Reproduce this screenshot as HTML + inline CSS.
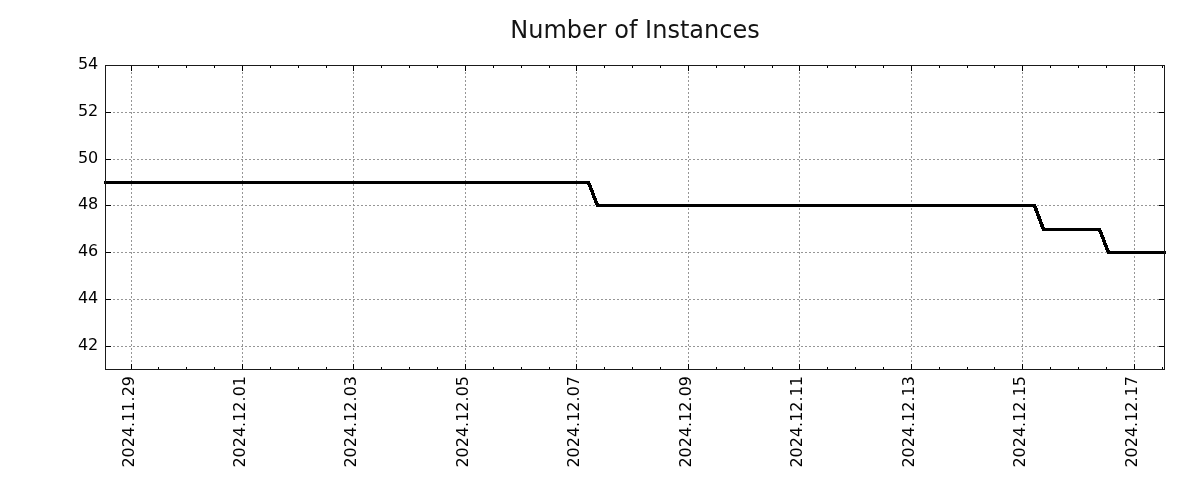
<!DOCTYPE html>
<html><head><meta charset="utf-8"><title>Number of Instances</title>
<style>html,body{margin:0;padding:0;background:#fff;overflow:hidden;}svg{display:block;}</style>
</head><body>
<svg width="1200" height="500" viewBox="0 0 1200 500">
<rect width="1200" height="500" fill="#fff"/>
<path d="M131 68h1v2h-1zM131 72h1v2h-1zM131 76h1v2h-1zM131 80h1v2h-1zM131 84h1v2h-1zM131 88h1v2h-1zM131 92h1v2h-1zM131 96h1v2h-1zM131 100h1v2h-1zM131 104h1v2h-1zM131 108h1v2h-1zM131 112h1v2h-1zM131 116h1v2h-1zM131 120h1v2h-1zM131 124h1v2h-1zM131 128h1v2h-1zM131 132h1v2h-1zM131 136h1v2h-1zM131 140h1v2h-1zM131 144h1v2h-1zM131 148h1v2h-1zM131 152h1v2h-1zM131 156h1v2h-1zM131 160h1v2h-1zM131 164h1v2h-1zM131 168h1v2h-1zM131 172h1v2h-1zM131 176h1v2h-1zM131 180h1v2h-1zM131 184h1v2h-1zM131 188h1v2h-1zM131 192h1v2h-1zM131 196h1v2h-1zM131 200h1v2h-1zM131 204h1v2h-1zM131 208h1v2h-1zM131 212h1v2h-1zM131 216h1v2h-1zM131 220h1v2h-1zM131 224h1v2h-1zM131 228h1v2h-1zM131 232h1v2h-1zM131 236h1v2h-1zM131 240h1v2h-1zM131 244h1v2h-1zM131 248h1v2h-1zM131 252h1v2h-1zM131 256h1v2h-1zM131 260h1v2h-1zM131 264h1v2h-1zM131 268h1v2h-1zM131 272h1v2h-1zM131 276h1v2h-1zM131 280h1v2h-1zM131 284h1v2h-1zM131 288h1v2h-1zM131 292h1v2h-1zM131 296h1v2h-1zM131 300h1v2h-1zM131 304h1v2h-1zM131 308h1v2h-1zM131 312h1v2h-1zM131 316h1v2h-1zM131 320h1v2h-1zM131 324h1v2h-1zM131 328h1v2h-1zM131 332h1v2h-1zM131 336h1v2h-1zM131 340h1v2h-1zM131 344h1v2h-1zM131 348h1v2h-1zM131 352h1v2h-1zM131 356h1v2h-1zM131 360h1v2h-1zM131 364h1v2h-1zM131 368h1v2h-1zM242 68h1v2h-1zM242 72h1v2h-1zM242 76h1v2h-1zM242 80h1v2h-1zM242 84h1v2h-1zM242 88h1v2h-1zM242 92h1v2h-1zM242 96h1v2h-1zM242 100h1v2h-1zM242 104h1v2h-1zM242 108h1v2h-1zM242 112h1v2h-1zM242 116h1v2h-1zM242 120h1v2h-1zM242 124h1v2h-1zM242 128h1v2h-1zM242 132h1v2h-1zM242 136h1v2h-1zM242 140h1v2h-1zM242 144h1v2h-1zM242 148h1v2h-1zM242 152h1v2h-1zM242 156h1v2h-1zM242 160h1v2h-1zM242 164h1v2h-1zM242 168h1v2h-1zM242 172h1v2h-1zM242 176h1v2h-1zM242 180h1v2h-1zM242 184h1v2h-1zM242 188h1v2h-1zM242 192h1v2h-1zM242 196h1v2h-1zM242 200h1v2h-1zM242 204h1v2h-1zM242 208h1v2h-1zM242 212h1v2h-1zM242 216h1v2h-1zM242 220h1v2h-1zM242 224h1v2h-1zM242 228h1v2h-1zM242 232h1v2h-1zM242 236h1v2h-1zM242 240h1v2h-1zM242 244h1v2h-1zM242 248h1v2h-1zM242 252h1v2h-1zM242 256h1v2h-1zM242 260h1v2h-1zM242 264h1v2h-1zM242 268h1v2h-1zM242 272h1v2h-1zM242 276h1v2h-1zM242 280h1v2h-1zM242 284h1v2h-1zM242 288h1v2h-1zM242 292h1v2h-1zM242 296h1v2h-1zM242 300h1v2h-1zM242 304h1v2h-1zM242 308h1v2h-1zM242 312h1v2h-1zM242 316h1v2h-1zM242 320h1v2h-1zM242 324h1v2h-1zM242 328h1v2h-1zM242 332h1v2h-1zM242 336h1v2h-1zM242 340h1v2h-1zM242 344h1v2h-1zM242 348h1v2h-1zM242 352h1v2h-1zM242 356h1v2h-1zM242 360h1v2h-1zM242 364h1v2h-1zM242 368h1v2h-1zM353 68h1v2h-1zM353 72h1v2h-1zM353 76h1v2h-1zM353 80h1v2h-1zM353 84h1v2h-1zM353 88h1v2h-1zM353 92h1v2h-1zM353 96h1v2h-1zM353 100h1v2h-1zM353 104h1v2h-1zM353 108h1v2h-1zM353 112h1v2h-1zM353 116h1v2h-1zM353 120h1v2h-1zM353 124h1v2h-1zM353 128h1v2h-1zM353 132h1v2h-1zM353 136h1v2h-1zM353 140h1v2h-1zM353 144h1v2h-1zM353 148h1v2h-1zM353 152h1v2h-1zM353 156h1v2h-1zM353 160h1v2h-1zM353 164h1v2h-1zM353 168h1v2h-1zM353 172h1v2h-1zM353 176h1v2h-1zM353 180h1v2h-1zM353 184h1v2h-1zM353 188h1v2h-1zM353 192h1v2h-1zM353 196h1v2h-1zM353 200h1v2h-1zM353 204h1v2h-1zM353 208h1v2h-1zM353 212h1v2h-1zM353 216h1v2h-1zM353 220h1v2h-1zM353 224h1v2h-1zM353 228h1v2h-1zM353 232h1v2h-1zM353 236h1v2h-1zM353 240h1v2h-1zM353 244h1v2h-1zM353 248h1v2h-1zM353 252h1v2h-1zM353 256h1v2h-1zM353 260h1v2h-1zM353 264h1v2h-1zM353 268h1v2h-1zM353 272h1v2h-1zM353 276h1v2h-1zM353 280h1v2h-1zM353 284h1v2h-1zM353 288h1v2h-1zM353 292h1v2h-1zM353 296h1v2h-1zM353 300h1v2h-1zM353 304h1v2h-1zM353 308h1v2h-1zM353 312h1v2h-1zM353 316h1v2h-1zM353 320h1v2h-1zM353 324h1v2h-1zM353 328h1v2h-1zM353 332h1v2h-1zM353 336h1v2h-1zM353 340h1v2h-1zM353 344h1v2h-1zM353 348h1v2h-1zM353 352h1v2h-1zM353 356h1v2h-1zM353 360h1v2h-1zM353 364h1v2h-1zM353 368h1v2h-1zM465 68h1v2h-1zM465 72h1v2h-1zM465 76h1v2h-1zM465 80h1v2h-1zM465 84h1v2h-1zM465 88h1v2h-1zM465 92h1v2h-1zM465 96h1v2h-1zM465 100h1v2h-1zM465 104h1v2h-1zM465 108h1v2h-1zM465 112h1v2h-1zM465 116h1v2h-1zM465 120h1v2h-1zM465 124h1v2h-1zM465 128h1v2h-1zM465 132h1v2h-1zM465 136h1v2h-1zM465 140h1v2h-1zM465 144h1v2h-1zM465 148h1v2h-1zM465 152h1v2h-1zM465 156h1v2h-1zM465 160h1v2h-1zM465 164h1v2h-1zM465 168h1v2h-1zM465 172h1v2h-1zM465 176h1v2h-1zM465 180h1v2h-1zM465 184h1v2h-1zM465 188h1v2h-1zM465 192h1v2h-1zM465 196h1v2h-1zM465 200h1v2h-1zM465 204h1v2h-1zM465 208h1v2h-1zM465 212h1v2h-1zM465 216h1v2h-1zM465 220h1v2h-1zM465 224h1v2h-1zM465 228h1v2h-1zM465 232h1v2h-1zM465 236h1v2h-1zM465 240h1v2h-1zM465 244h1v2h-1zM465 248h1v2h-1zM465 252h1v2h-1zM465 256h1v2h-1zM465 260h1v2h-1zM465 264h1v2h-1zM465 268h1v2h-1zM465 272h1v2h-1zM465 276h1v2h-1zM465 280h1v2h-1zM465 284h1v2h-1zM465 288h1v2h-1zM465 292h1v2h-1zM465 296h1v2h-1zM465 300h1v2h-1zM465 304h1v2h-1zM465 308h1v2h-1zM465 312h1v2h-1zM465 316h1v2h-1zM465 320h1v2h-1zM465 324h1v2h-1zM465 328h1v2h-1zM465 332h1v2h-1zM465 336h1v2h-1zM465 340h1v2h-1zM465 344h1v2h-1zM465 348h1v2h-1zM465 352h1v2h-1zM465 356h1v2h-1zM465 360h1v2h-1zM465 364h1v2h-1zM465 368h1v2h-1zM576 68h1v2h-1zM576 72h1v2h-1zM576 76h1v2h-1zM576 80h1v2h-1zM576 84h1v2h-1zM576 88h1v2h-1zM576 92h1v2h-1zM576 96h1v2h-1zM576 100h1v2h-1zM576 104h1v2h-1zM576 108h1v2h-1zM576 112h1v2h-1zM576 116h1v2h-1zM576 120h1v2h-1zM576 124h1v2h-1zM576 128h1v2h-1zM576 132h1v2h-1zM576 136h1v2h-1zM576 140h1v2h-1zM576 144h1v2h-1zM576 148h1v2h-1zM576 152h1v2h-1zM576 156h1v2h-1zM576 160h1v2h-1zM576 164h1v2h-1zM576 168h1v2h-1zM576 172h1v2h-1zM576 176h1v2h-1zM576 180h1v2h-1zM576 184h1v2h-1zM576 188h1v2h-1zM576 192h1v2h-1zM576 196h1v2h-1zM576 200h1v2h-1zM576 204h1v2h-1zM576 208h1v2h-1zM576 212h1v2h-1zM576 216h1v2h-1zM576 220h1v2h-1zM576 224h1v2h-1zM576 228h1v2h-1zM576 232h1v2h-1zM576 236h1v2h-1zM576 240h1v2h-1zM576 244h1v2h-1zM576 248h1v2h-1zM576 252h1v2h-1zM576 256h1v2h-1zM576 260h1v2h-1zM576 264h1v2h-1zM576 268h1v2h-1zM576 272h1v2h-1zM576 276h1v2h-1zM576 280h1v2h-1zM576 284h1v2h-1zM576 288h1v2h-1zM576 292h1v2h-1zM576 296h1v2h-1zM576 300h1v2h-1zM576 304h1v2h-1zM576 308h1v2h-1zM576 312h1v2h-1zM576 316h1v2h-1zM576 320h1v2h-1zM576 324h1v2h-1zM576 328h1v2h-1zM576 332h1v2h-1zM576 336h1v2h-1zM576 340h1v2h-1zM576 344h1v2h-1zM576 348h1v2h-1zM576 352h1v2h-1zM576 356h1v2h-1zM576 360h1v2h-1zM576 364h1v2h-1zM576 368h1v2h-1zM688 68h1v2h-1zM688 72h1v2h-1zM688 76h1v2h-1zM688 80h1v2h-1zM688 84h1v2h-1zM688 88h1v2h-1zM688 92h1v2h-1zM688 96h1v2h-1zM688 100h1v2h-1zM688 104h1v2h-1zM688 108h1v2h-1zM688 112h1v2h-1zM688 116h1v2h-1zM688 120h1v2h-1zM688 124h1v2h-1zM688 128h1v2h-1zM688 132h1v2h-1zM688 136h1v2h-1zM688 140h1v2h-1zM688 144h1v2h-1zM688 148h1v2h-1zM688 152h1v2h-1zM688 156h1v2h-1zM688 160h1v2h-1zM688 164h1v2h-1zM688 168h1v2h-1zM688 172h1v2h-1zM688 176h1v2h-1zM688 180h1v2h-1zM688 184h1v2h-1zM688 188h1v2h-1zM688 192h1v2h-1zM688 196h1v2h-1zM688 200h1v2h-1zM688 204h1v2h-1zM688 208h1v2h-1zM688 212h1v2h-1zM688 216h1v2h-1zM688 220h1v2h-1zM688 224h1v2h-1zM688 228h1v2h-1zM688 232h1v2h-1zM688 236h1v2h-1zM688 240h1v2h-1zM688 244h1v2h-1zM688 248h1v2h-1zM688 252h1v2h-1zM688 256h1v2h-1zM688 260h1v2h-1zM688 264h1v2h-1zM688 268h1v2h-1zM688 272h1v2h-1zM688 276h1v2h-1zM688 280h1v2h-1zM688 284h1v2h-1zM688 288h1v2h-1zM688 292h1v2h-1zM688 296h1v2h-1zM688 300h1v2h-1zM688 304h1v2h-1zM688 308h1v2h-1zM688 312h1v2h-1zM688 316h1v2h-1zM688 320h1v2h-1zM688 324h1v2h-1zM688 328h1v2h-1zM688 332h1v2h-1zM688 336h1v2h-1zM688 340h1v2h-1zM688 344h1v2h-1zM688 348h1v2h-1zM688 352h1v2h-1zM688 356h1v2h-1zM688 360h1v2h-1zM688 364h1v2h-1zM688 368h1v2h-1zM799 68h1v2h-1zM799 72h1v2h-1zM799 76h1v2h-1zM799 80h1v2h-1zM799 84h1v2h-1zM799 88h1v2h-1zM799 92h1v2h-1zM799 96h1v2h-1zM799 100h1v2h-1zM799 104h1v2h-1zM799 108h1v2h-1zM799 112h1v2h-1zM799 116h1v2h-1zM799 120h1v2h-1zM799 124h1v2h-1zM799 128h1v2h-1zM799 132h1v2h-1zM799 136h1v2h-1zM799 140h1v2h-1zM799 144h1v2h-1zM799 148h1v2h-1zM799 152h1v2h-1zM799 156h1v2h-1zM799 160h1v2h-1zM799 164h1v2h-1zM799 168h1v2h-1zM799 172h1v2h-1zM799 176h1v2h-1zM799 180h1v2h-1zM799 184h1v2h-1zM799 188h1v2h-1zM799 192h1v2h-1zM799 196h1v2h-1zM799 200h1v2h-1zM799 204h1v2h-1zM799 208h1v2h-1zM799 212h1v2h-1zM799 216h1v2h-1zM799 220h1v2h-1zM799 224h1v2h-1zM799 228h1v2h-1zM799 232h1v2h-1zM799 236h1v2h-1zM799 240h1v2h-1zM799 244h1v2h-1zM799 248h1v2h-1zM799 252h1v2h-1zM799 256h1v2h-1zM799 260h1v2h-1zM799 264h1v2h-1zM799 268h1v2h-1zM799 272h1v2h-1zM799 276h1v2h-1zM799 280h1v2h-1zM799 284h1v2h-1zM799 288h1v2h-1zM799 292h1v2h-1zM799 296h1v2h-1zM799 300h1v2h-1zM799 304h1v2h-1zM799 308h1v2h-1zM799 312h1v2h-1zM799 316h1v2h-1zM799 320h1v2h-1zM799 324h1v2h-1zM799 328h1v2h-1zM799 332h1v2h-1zM799 336h1v2h-1zM799 340h1v2h-1zM799 344h1v2h-1zM799 348h1v2h-1zM799 352h1v2h-1zM799 356h1v2h-1zM799 360h1v2h-1zM799 364h1v2h-1zM799 368h1v2h-1zM911 68h1v2h-1zM911 72h1v2h-1zM911 76h1v2h-1zM911 80h1v2h-1zM911 84h1v2h-1zM911 88h1v2h-1zM911 92h1v2h-1zM911 96h1v2h-1zM911 100h1v2h-1zM911 104h1v2h-1zM911 108h1v2h-1zM911 112h1v2h-1zM911 116h1v2h-1zM911 120h1v2h-1zM911 124h1v2h-1zM911 128h1v2h-1zM911 132h1v2h-1zM911 136h1v2h-1zM911 140h1v2h-1zM911 144h1v2h-1zM911 148h1v2h-1zM911 152h1v2h-1zM911 156h1v2h-1zM911 160h1v2h-1zM911 164h1v2h-1zM911 168h1v2h-1zM911 172h1v2h-1zM911 176h1v2h-1zM911 180h1v2h-1zM911 184h1v2h-1zM911 188h1v2h-1zM911 192h1v2h-1zM911 196h1v2h-1zM911 200h1v2h-1zM911 204h1v2h-1zM911 208h1v2h-1zM911 212h1v2h-1zM911 216h1v2h-1zM911 220h1v2h-1zM911 224h1v2h-1zM911 228h1v2h-1zM911 232h1v2h-1zM911 236h1v2h-1zM911 240h1v2h-1zM911 244h1v2h-1zM911 248h1v2h-1zM911 252h1v2h-1zM911 256h1v2h-1zM911 260h1v2h-1zM911 264h1v2h-1zM911 268h1v2h-1zM911 272h1v2h-1zM911 276h1v2h-1zM911 280h1v2h-1zM911 284h1v2h-1zM911 288h1v2h-1zM911 292h1v2h-1zM911 296h1v2h-1zM911 300h1v2h-1zM911 304h1v2h-1zM911 308h1v2h-1zM911 312h1v2h-1zM911 316h1v2h-1zM911 320h1v2h-1zM911 324h1v2h-1zM911 328h1v2h-1zM911 332h1v2h-1zM911 336h1v2h-1zM911 340h1v2h-1zM911 344h1v2h-1zM911 348h1v2h-1zM911 352h1v2h-1zM911 356h1v2h-1zM911 360h1v2h-1zM911 364h1v2h-1zM911 368h1v2h-1zM1022 68h1v2h-1zM1022 72h1v2h-1zM1022 76h1v2h-1zM1022 80h1v2h-1zM1022 84h1v2h-1zM1022 88h1v2h-1zM1022 92h1v2h-1zM1022 96h1v2h-1zM1022 100h1v2h-1zM1022 104h1v2h-1zM1022 108h1v2h-1zM1022 112h1v2h-1zM1022 116h1v2h-1zM1022 120h1v2h-1zM1022 124h1v2h-1zM1022 128h1v2h-1zM1022 132h1v2h-1zM1022 136h1v2h-1zM1022 140h1v2h-1zM1022 144h1v2h-1zM1022 148h1v2h-1zM1022 152h1v2h-1zM1022 156h1v2h-1zM1022 160h1v2h-1zM1022 164h1v2h-1zM1022 168h1v2h-1zM1022 172h1v2h-1zM1022 176h1v2h-1zM1022 180h1v2h-1zM1022 184h1v2h-1zM1022 188h1v2h-1zM1022 192h1v2h-1zM1022 196h1v2h-1zM1022 200h1v2h-1zM1022 204h1v2h-1zM1022 208h1v2h-1zM1022 212h1v2h-1zM1022 216h1v2h-1zM1022 220h1v2h-1zM1022 224h1v2h-1zM1022 228h1v2h-1zM1022 232h1v2h-1zM1022 236h1v2h-1zM1022 240h1v2h-1zM1022 244h1v2h-1zM1022 248h1v2h-1zM1022 252h1v2h-1zM1022 256h1v2h-1zM1022 260h1v2h-1zM1022 264h1v2h-1zM1022 268h1v2h-1zM1022 272h1v2h-1zM1022 276h1v2h-1zM1022 280h1v2h-1zM1022 284h1v2h-1zM1022 288h1v2h-1zM1022 292h1v2h-1zM1022 296h1v2h-1zM1022 300h1v2h-1zM1022 304h1v2h-1zM1022 308h1v2h-1zM1022 312h1v2h-1zM1022 316h1v2h-1zM1022 320h1v2h-1zM1022 324h1v2h-1zM1022 328h1v2h-1zM1022 332h1v2h-1zM1022 336h1v2h-1zM1022 340h1v2h-1zM1022 344h1v2h-1zM1022 348h1v2h-1zM1022 352h1v2h-1zM1022 356h1v2h-1zM1022 360h1v2h-1zM1022 364h1v2h-1zM1022 368h1v2h-1zM1134 68h1v2h-1zM1134 72h1v2h-1zM1134 76h1v2h-1zM1134 80h1v2h-1zM1134 84h1v2h-1zM1134 88h1v2h-1zM1134 92h1v2h-1zM1134 96h1v2h-1zM1134 100h1v2h-1zM1134 104h1v2h-1zM1134 108h1v2h-1zM1134 112h1v2h-1zM1134 116h1v2h-1zM1134 120h1v2h-1zM1134 124h1v2h-1zM1134 128h1v2h-1zM1134 132h1v2h-1zM1134 136h1v2h-1zM1134 140h1v2h-1zM1134 144h1v2h-1zM1134 148h1v2h-1zM1134 152h1v2h-1zM1134 156h1v2h-1zM1134 160h1v2h-1zM1134 164h1v2h-1zM1134 168h1v2h-1zM1134 172h1v2h-1zM1134 176h1v2h-1zM1134 180h1v2h-1zM1134 184h1v2h-1zM1134 188h1v2h-1zM1134 192h1v2h-1zM1134 196h1v2h-1zM1134 200h1v2h-1zM1134 204h1v2h-1zM1134 208h1v2h-1zM1134 212h1v2h-1zM1134 216h1v2h-1zM1134 220h1v2h-1zM1134 224h1v2h-1zM1134 228h1v2h-1zM1134 232h1v2h-1zM1134 236h1v2h-1zM1134 240h1v2h-1zM1134 244h1v2h-1zM1134 248h1v2h-1zM1134 252h1v2h-1zM1134 256h1v2h-1zM1134 260h1v2h-1zM1134 264h1v2h-1zM1134 268h1v2h-1zM1134 272h1v2h-1zM1134 276h1v2h-1zM1134 280h1v2h-1zM1134 284h1v2h-1zM1134 288h1v2h-1zM1134 292h1v2h-1zM1134 296h1v2h-1zM1134 300h1v2h-1zM1134 304h1v2h-1zM1134 308h1v2h-1zM1134 312h1v2h-1zM1134 316h1v2h-1zM1134 320h1v2h-1zM1134 324h1v2h-1zM1134 328h1v2h-1zM1134 332h1v2h-1zM1134 336h1v2h-1zM1134 340h1v2h-1zM1134 344h1v2h-1zM1134 348h1v2h-1zM1134 352h1v2h-1zM1134 356h1v2h-1zM1134 360h1v2h-1zM1134 364h1v2h-1zM1134 368h1v2h-1zM109 112h2v1h-2zM113 112h2v1h-2zM117 112h2v1h-2zM121 112h2v1h-2zM125 112h2v1h-2zM129 112h2v1h-2zM133 112h2v1h-2zM137 112h2v1h-2zM141 112h2v1h-2zM145 112h2v1h-2zM149 112h2v1h-2zM153 112h2v1h-2zM157 112h2v1h-2zM161 112h2v1h-2zM165 112h2v1h-2zM169 112h2v1h-2zM173 112h2v1h-2zM177 112h2v1h-2zM181 112h2v1h-2zM185 112h2v1h-2zM189 112h2v1h-2zM193 112h2v1h-2zM197 112h2v1h-2zM201 112h2v1h-2zM205 112h2v1h-2zM209 112h2v1h-2zM213 112h2v1h-2zM217 112h2v1h-2zM221 112h2v1h-2zM225 112h2v1h-2zM229 112h2v1h-2zM233 112h2v1h-2zM237 112h2v1h-2zM241 112h2v1h-2zM245 112h2v1h-2zM249 112h2v1h-2zM253 112h2v1h-2zM257 112h2v1h-2zM261 112h2v1h-2zM265 112h2v1h-2zM269 112h2v1h-2zM273 112h2v1h-2zM277 112h2v1h-2zM281 112h2v1h-2zM285 112h2v1h-2zM289 112h2v1h-2zM293 112h2v1h-2zM297 112h2v1h-2zM301 112h2v1h-2zM305 112h2v1h-2zM309 112h2v1h-2zM313 112h2v1h-2zM317 112h2v1h-2zM321 112h2v1h-2zM325 112h2v1h-2zM329 112h2v1h-2zM333 112h2v1h-2zM337 112h2v1h-2zM341 112h2v1h-2zM345 112h2v1h-2zM349 112h2v1h-2zM353 112h2v1h-2zM357 112h2v1h-2zM361 112h2v1h-2zM365 112h2v1h-2zM369 112h2v1h-2zM373 112h2v1h-2zM377 112h2v1h-2zM381 112h2v1h-2zM385 112h2v1h-2zM389 112h2v1h-2zM393 112h2v1h-2zM397 112h2v1h-2zM401 112h2v1h-2zM405 112h2v1h-2zM409 112h2v1h-2zM413 112h2v1h-2zM417 112h2v1h-2zM421 112h2v1h-2zM425 112h2v1h-2zM429 112h2v1h-2zM433 112h2v1h-2zM437 112h2v1h-2zM441 112h2v1h-2zM445 112h2v1h-2zM449 112h2v1h-2zM453 112h2v1h-2zM457 112h2v1h-2zM461 112h2v1h-2zM465 112h2v1h-2zM469 112h2v1h-2zM473 112h2v1h-2zM477 112h2v1h-2zM481 112h2v1h-2zM485 112h2v1h-2zM489 112h2v1h-2zM493 112h2v1h-2zM497 112h2v1h-2zM501 112h2v1h-2zM505 112h2v1h-2zM509 112h2v1h-2zM513 112h2v1h-2zM517 112h2v1h-2zM521 112h2v1h-2zM525 112h2v1h-2zM529 112h2v1h-2zM533 112h2v1h-2zM537 112h2v1h-2zM541 112h2v1h-2zM545 112h2v1h-2zM549 112h2v1h-2zM553 112h2v1h-2zM557 112h2v1h-2zM561 112h2v1h-2zM565 112h2v1h-2zM569 112h2v1h-2zM573 112h2v1h-2zM577 112h2v1h-2zM581 112h2v1h-2zM585 112h2v1h-2zM589 112h2v1h-2zM593 112h2v1h-2zM597 112h2v1h-2zM601 112h2v1h-2zM605 112h2v1h-2zM609 112h2v1h-2zM613 112h2v1h-2zM617 112h2v1h-2zM621 112h2v1h-2zM625 112h2v1h-2zM629 112h2v1h-2zM633 112h2v1h-2zM637 112h2v1h-2zM641 112h2v1h-2zM645 112h2v1h-2zM649 112h2v1h-2zM653 112h2v1h-2zM657 112h2v1h-2zM661 112h2v1h-2zM665 112h2v1h-2zM669 112h2v1h-2zM673 112h2v1h-2zM677 112h2v1h-2zM681 112h2v1h-2zM685 112h2v1h-2zM689 112h2v1h-2zM693 112h2v1h-2zM697 112h2v1h-2zM701 112h2v1h-2zM705 112h2v1h-2zM709 112h2v1h-2zM713 112h2v1h-2zM717 112h2v1h-2zM721 112h2v1h-2zM725 112h2v1h-2zM729 112h2v1h-2zM733 112h2v1h-2zM737 112h2v1h-2zM741 112h2v1h-2zM745 112h2v1h-2zM749 112h2v1h-2zM753 112h2v1h-2zM757 112h2v1h-2zM761 112h2v1h-2zM765 112h2v1h-2zM769 112h2v1h-2zM773 112h2v1h-2zM777 112h2v1h-2zM781 112h2v1h-2zM785 112h2v1h-2zM789 112h2v1h-2zM793 112h2v1h-2zM797 112h2v1h-2zM801 112h2v1h-2zM805 112h2v1h-2zM809 112h2v1h-2zM813 112h2v1h-2zM817 112h2v1h-2zM821 112h2v1h-2zM825 112h2v1h-2zM829 112h2v1h-2zM833 112h2v1h-2zM837 112h2v1h-2zM841 112h2v1h-2zM845 112h2v1h-2zM849 112h2v1h-2zM853 112h2v1h-2zM857 112h2v1h-2zM861 112h2v1h-2zM865 112h2v1h-2zM869 112h2v1h-2zM873 112h2v1h-2zM877 112h2v1h-2zM881 112h2v1h-2zM885 112h2v1h-2zM889 112h2v1h-2zM893 112h2v1h-2zM897 112h2v1h-2zM901 112h2v1h-2zM905 112h2v1h-2zM909 112h2v1h-2zM913 112h2v1h-2zM917 112h2v1h-2zM921 112h2v1h-2zM925 112h2v1h-2zM929 112h2v1h-2zM933 112h2v1h-2zM937 112h2v1h-2zM941 112h2v1h-2zM945 112h2v1h-2zM949 112h2v1h-2zM953 112h2v1h-2zM957 112h2v1h-2zM961 112h2v1h-2zM965 112h2v1h-2zM969 112h2v1h-2zM973 112h2v1h-2zM977 112h2v1h-2zM981 112h2v1h-2zM985 112h2v1h-2zM989 112h2v1h-2zM993 112h2v1h-2zM997 112h2v1h-2zM1001 112h2v1h-2zM1005 112h2v1h-2zM1009 112h2v1h-2zM1013 112h2v1h-2zM1017 112h2v1h-2zM1021 112h2v1h-2zM1025 112h2v1h-2zM1029 112h2v1h-2zM1033 112h2v1h-2zM1037 112h2v1h-2zM1041 112h2v1h-2zM1045 112h2v1h-2zM1049 112h2v1h-2zM1053 112h2v1h-2zM1057 112h2v1h-2zM1061 112h2v1h-2zM1065 112h2v1h-2zM1069 112h2v1h-2zM1073 112h2v1h-2zM1077 112h2v1h-2zM1081 112h2v1h-2zM1085 112h2v1h-2zM1089 112h2v1h-2zM1093 112h2v1h-2zM1097 112h2v1h-2zM1101 112h2v1h-2zM1105 112h2v1h-2zM1109 112h2v1h-2zM1113 112h2v1h-2zM1117 112h2v1h-2zM1121 112h2v1h-2zM1125 112h2v1h-2zM1129 112h2v1h-2zM1133 112h2v1h-2zM1137 112h2v1h-2zM1141 112h2v1h-2zM1145 112h2v1h-2zM1149 112h2v1h-2zM1153 112h2v1h-2zM1157 112h2v1h-2zM1161 112h2v1h-2zM109 159h2v1h-2zM113 159h2v1h-2zM117 159h2v1h-2zM121 159h2v1h-2zM125 159h2v1h-2zM129 159h2v1h-2zM133 159h2v1h-2zM137 159h2v1h-2zM141 159h2v1h-2zM145 159h2v1h-2zM149 159h2v1h-2zM153 159h2v1h-2zM157 159h2v1h-2zM161 159h2v1h-2zM165 159h2v1h-2zM169 159h2v1h-2zM173 159h2v1h-2zM177 159h2v1h-2zM181 159h2v1h-2zM185 159h2v1h-2zM189 159h2v1h-2zM193 159h2v1h-2zM197 159h2v1h-2zM201 159h2v1h-2zM205 159h2v1h-2zM209 159h2v1h-2zM213 159h2v1h-2zM217 159h2v1h-2zM221 159h2v1h-2zM225 159h2v1h-2zM229 159h2v1h-2zM233 159h2v1h-2zM237 159h2v1h-2zM241 159h2v1h-2zM245 159h2v1h-2zM249 159h2v1h-2zM253 159h2v1h-2zM257 159h2v1h-2zM261 159h2v1h-2zM265 159h2v1h-2zM269 159h2v1h-2zM273 159h2v1h-2zM277 159h2v1h-2zM281 159h2v1h-2zM285 159h2v1h-2zM289 159h2v1h-2zM293 159h2v1h-2zM297 159h2v1h-2zM301 159h2v1h-2zM305 159h2v1h-2zM309 159h2v1h-2zM313 159h2v1h-2zM317 159h2v1h-2zM321 159h2v1h-2zM325 159h2v1h-2zM329 159h2v1h-2zM333 159h2v1h-2zM337 159h2v1h-2zM341 159h2v1h-2zM345 159h2v1h-2zM349 159h2v1h-2zM353 159h2v1h-2zM357 159h2v1h-2zM361 159h2v1h-2zM365 159h2v1h-2zM369 159h2v1h-2zM373 159h2v1h-2zM377 159h2v1h-2zM381 159h2v1h-2zM385 159h2v1h-2zM389 159h2v1h-2zM393 159h2v1h-2zM397 159h2v1h-2zM401 159h2v1h-2zM405 159h2v1h-2zM409 159h2v1h-2zM413 159h2v1h-2zM417 159h2v1h-2zM421 159h2v1h-2zM425 159h2v1h-2zM429 159h2v1h-2zM433 159h2v1h-2zM437 159h2v1h-2zM441 159h2v1h-2zM445 159h2v1h-2zM449 159h2v1h-2zM453 159h2v1h-2zM457 159h2v1h-2zM461 159h2v1h-2zM465 159h2v1h-2zM469 159h2v1h-2zM473 159h2v1h-2zM477 159h2v1h-2zM481 159h2v1h-2zM485 159h2v1h-2zM489 159h2v1h-2zM493 159h2v1h-2zM497 159h2v1h-2zM501 159h2v1h-2zM505 159h2v1h-2zM509 159h2v1h-2zM513 159h2v1h-2zM517 159h2v1h-2zM521 159h2v1h-2zM525 159h2v1h-2zM529 159h2v1h-2zM533 159h2v1h-2zM537 159h2v1h-2zM541 159h2v1h-2zM545 159h2v1h-2zM549 159h2v1h-2zM553 159h2v1h-2zM557 159h2v1h-2zM561 159h2v1h-2zM565 159h2v1h-2zM569 159h2v1h-2zM573 159h2v1h-2zM577 159h2v1h-2zM581 159h2v1h-2zM585 159h2v1h-2zM589 159h2v1h-2zM593 159h2v1h-2zM597 159h2v1h-2zM601 159h2v1h-2zM605 159h2v1h-2zM609 159h2v1h-2zM613 159h2v1h-2zM617 159h2v1h-2zM621 159h2v1h-2zM625 159h2v1h-2zM629 159h2v1h-2zM633 159h2v1h-2zM637 159h2v1h-2zM641 159h2v1h-2zM645 159h2v1h-2zM649 159h2v1h-2zM653 159h2v1h-2zM657 159h2v1h-2zM661 159h2v1h-2zM665 159h2v1h-2zM669 159h2v1h-2zM673 159h2v1h-2zM677 159h2v1h-2zM681 159h2v1h-2zM685 159h2v1h-2zM689 159h2v1h-2zM693 159h2v1h-2zM697 159h2v1h-2zM701 159h2v1h-2zM705 159h2v1h-2zM709 159h2v1h-2zM713 159h2v1h-2zM717 159h2v1h-2zM721 159h2v1h-2zM725 159h2v1h-2zM729 159h2v1h-2zM733 159h2v1h-2zM737 159h2v1h-2zM741 159h2v1h-2zM745 159h2v1h-2zM749 159h2v1h-2zM753 159h2v1h-2zM757 159h2v1h-2zM761 159h2v1h-2zM765 159h2v1h-2zM769 159h2v1h-2zM773 159h2v1h-2zM777 159h2v1h-2zM781 159h2v1h-2zM785 159h2v1h-2zM789 159h2v1h-2zM793 159h2v1h-2zM797 159h2v1h-2zM801 159h2v1h-2zM805 159h2v1h-2zM809 159h2v1h-2zM813 159h2v1h-2zM817 159h2v1h-2zM821 159h2v1h-2zM825 159h2v1h-2zM829 159h2v1h-2zM833 159h2v1h-2zM837 159h2v1h-2zM841 159h2v1h-2zM845 159h2v1h-2zM849 159h2v1h-2zM853 159h2v1h-2zM857 159h2v1h-2zM861 159h2v1h-2zM865 159h2v1h-2zM869 159h2v1h-2zM873 159h2v1h-2zM877 159h2v1h-2zM881 159h2v1h-2zM885 159h2v1h-2zM889 159h2v1h-2zM893 159h2v1h-2zM897 159h2v1h-2zM901 159h2v1h-2zM905 159h2v1h-2zM909 159h2v1h-2zM913 159h2v1h-2zM917 159h2v1h-2zM921 159h2v1h-2zM925 159h2v1h-2zM929 159h2v1h-2zM933 159h2v1h-2zM937 159h2v1h-2zM941 159h2v1h-2zM945 159h2v1h-2zM949 159h2v1h-2zM953 159h2v1h-2zM957 159h2v1h-2zM961 159h2v1h-2zM965 159h2v1h-2zM969 159h2v1h-2zM973 159h2v1h-2zM977 159h2v1h-2zM981 159h2v1h-2zM985 159h2v1h-2zM989 159h2v1h-2zM993 159h2v1h-2zM997 159h2v1h-2zM1001 159h2v1h-2zM1005 159h2v1h-2zM1009 159h2v1h-2zM1013 159h2v1h-2zM1017 159h2v1h-2zM1021 159h2v1h-2zM1025 159h2v1h-2zM1029 159h2v1h-2zM1033 159h2v1h-2zM1037 159h2v1h-2zM1041 159h2v1h-2zM1045 159h2v1h-2zM1049 159h2v1h-2zM1053 159h2v1h-2zM1057 159h2v1h-2zM1061 159h2v1h-2zM1065 159h2v1h-2zM1069 159h2v1h-2zM1073 159h2v1h-2zM1077 159h2v1h-2zM1081 159h2v1h-2zM1085 159h2v1h-2zM1089 159h2v1h-2zM1093 159h2v1h-2zM1097 159h2v1h-2zM1101 159h2v1h-2zM1105 159h2v1h-2zM1109 159h2v1h-2zM1113 159h2v1h-2zM1117 159h2v1h-2zM1121 159h2v1h-2zM1125 159h2v1h-2zM1129 159h2v1h-2zM1133 159h2v1h-2zM1137 159h2v1h-2zM1141 159h2v1h-2zM1145 159h2v1h-2zM1149 159h2v1h-2zM1153 159h2v1h-2zM1157 159h2v1h-2zM1161 159h2v1h-2zM109 205h2v1h-2zM113 205h2v1h-2zM117 205h2v1h-2zM121 205h2v1h-2zM125 205h2v1h-2zM129 205h2v1h-2zM133 205h2v1h-2zM137 205h2v1h-2zM141 205h2v1h-2zM145 205h2v1h-2zM149 205h2v1h-2zM153 205h2v1h-2zM157 205h2v1h-2zM161 205h2v1h-2zM165 205h2v1h-2zM169 205h2v1h-2zM173 205h2v1h-2zM177 205h2v1h-2zM181 205h2v1h-2zM185 205h2v1h-2zM189 205h2v1h-2zM193 205h2v1h-2zM197 205h2v1h-2zM201 205h2v1h-2zM205 205h2v1h-2zM209 205h2v1h-2zM213 205h2v1h-2zM217 205h2v1h-2zM221 205h2v1h-2zM225 205h2v1h-2zM229 205h2v1h-2zM233 205h2v1h-2zM237 205h2v1h-2zM241 205h2v1h-2zM245 205h2v1h-2zM249 205h2v1h-2zM253 205h2v1h-2zM257 205h2v1h-2zM261 205h2v1h-2zM265 205h2v1h-2zM269 205h2v1h-2zM273 205h2v1h-2zM277 205h2v1h-2zM281 205h2v1h-2zM285 205h2v1h-2zM289 205h2v1h-2zM293 205h2v1h-2zM297 205h2v1h-2zM301 205h2v1h-2zM305 205h2v1h-2zM309 205h2v1h-2zM313 205h2v1h-2zM317 205h2v1h-2zM321 205h2v1h-2zM325 205h2v1h-2zM329 205h2v1h-2zM333 205h2v1h-2zM337 205h2v1h-2zM341 205h2v1h-2zM345 205h2v1h-2zM349 205h2v1h-2zM353 205h2v1h-2zM357 205h2v1h-2zM361 205h2v1h-2zM365 205h2v1h-2zM369 205h2v1h-2zM373 205h2v1h-2zM377 205h2v1h-2zM381 205h2v1h-2zM385 205h2v1h-2zM389 205h2v1h-2zM393 205h2v1h-2zM397 205h2v1h-2zM401 205h2v1h-2zM405 205h2v1h-2zM409 205h2v1h-2zM413 205h2v1h-2zM417 205h2v1h-2zM421 205h2v1h-2zM425 205h2v1h-2zM429 205h2v1h-2zM433 205h2v1h-2zM437 205h2v1h-2zM441 205h2v1h-2zM445 205h2v1h-2zM449 205h2v1h-2zM453 205h2v1h-2zM457 205h2v1h-2zM461 205h2v1h-2zM465 205h2v1h-2zM469 205h2v1h-2zM473 205h2v1h-2zM477 205h2v1h-2zM481 205h2v1h-2zM485 205h2v1h-2zM489 205h2v1h-2zM493 205h2v1h-2zM497 205h2v1h-2zM501 205h2v1h-2zM505 205h2v1h-2zM509 205h2v1h-2zM513 205h2v1h-2zM517 205h2v1h-2zM521 205h2v1h-2zM525 205h2v1h-2zM529 205h2v1h-2zM533 205h2v1h-2zM537 205h2v1h-2zM541 205h2v1h-2zM545 205h2v1h-2zM549 205h2v1h-2zM553 205h2v1h-2zM557 205h2v1h-2zM561 205h2v1h-2zM565 205h2v1h-2zM569 205h2v1h-2zM573 205h2v1h-2zM577 205h2v1h-2zM581 205h2v1h-2zM585 205h2v1h-2zM589 205h2v1h-2zM593 205h2v1h-2zM597 205h2v1h-2zM601 205h2v1h-2zM605 205h2v1h-2zM609 205h2v1h-2zM613 205h2v1h-2zM617 205h2v1h-2zM621 205h2v1h-2zM625 205h2v1h-2zM629 205h2v1h-2zM633 205h2v1h-2zM637 205h2v1h-2zM641 205h2v1h-2zM645 205h2v1h-2zM649 205h2v1h-2zM653 205h2v1h-2zM657 205h2v1h-2zM661 205h2v1h-2zM665 205h2v1h-2zM669 205h2v1h-2zM673 205h2v1h-2zM677 205h2v1h-2zM681 205h2v1h-2zM685 205h2v1h-2zM689 205h2v1h-2zM693 205h2v1h-2zM697 205h2v1h-2zM701 205h2v1h-2zM705 205h2v1h-2zM709 205h2v1h-2zM713 205h2v1h-2zM717 205h2v1h-2zM721 205h2v1h-2zM725 205h2v1h-2zM729 205h2v1h-2zM733 205h2v1h-2zM737 205h2v1h-2zM741 205h2v1h-2zM745 205h2v1h-2zM749 205h2v1h-2zM753 205h2v1h-2zM757 205h2v1h-2zM761 205h2v1h-2zM765 205h2v1h-2zM769 205h2v1h-2zM773 205h2v1h-2zM777 205h2v1h-2zM781 205h2v1h-2zM785 205h2v1h-2zM789 205h2v1h-2zM793 205h2v1h-2zM797 205h2v1h-2zM801 205h2v1h-2zM805 205h2v1h-2zM809 205h2v1h-2zM813 205h2v1h-2zM817 205h2v1h-2zM821 205h2v1h-2zM825 205h2v1h-2zM829 205h2v1h-2zM833 205h2v1h-2zM837 205h2v1h-2zM841 205h2v1h-2zM845 205h2v1h-2zM849 205h2v1h-2zM853 205h2v1h-2zM857 205h2v1h-2zM861 205h2v1h-2zM865 205h2v1h-2zM869 205h2v1h-2zM873 205h2v1h-2zM877 205h2v1h-2zM881 205h2v1h-2zM885 205h2v1h-2zM889 205h2v1h-2zM893 205h2v1h-2zM897 205h2v1h-2zM901 205h2v1h-2zM905 205h2v1h-2zM909 205h2v1h-2zM913 205h2v1h-2zM917 205h2v1h-2zM921 205h2v1h-2zM925 205h2v1h-2zM929 205h2v1h-2zM933 205h2v1h-2zM937 205h2v1h-2zM941 205h2v1h-2zM945 205h2v1h-2zM949 205h2v1h-2zM953 205h2v1h-2zM957 205h2v1h-2zM961 205h2v1h-2zM965 205h2v1h-2zM969 205h2v1h-2zM973 205h2v1h-2zM977 205h2v1h-2zM981 205h2v1h-2zM985 205h2v1h-2zM989 205h2v1h-2zM993 205h2v1h-2zM997 205h2v1h-2zM1001 205h2v1h-2zM1005 205h2v1h-2zM1009 205h2v1h-2zM1013 205h2v1h-2zM1017 205h2v1h-2zM1021 205h2v1h-2zM1025 205h2v1h-2zM1029 205h2v1h-2zM1033 205h2v1h-2zM1037 205h2v1h-2zM1041 205h2v1h-2zM1045 205h2v1h-2zM1049 205h2v1h-2zM1053 205h2v1h-2zM1057 205h2v1h-2zM1061 205h2v1h-2zM1065 205h2v1h-2zM1069 205h2v1h-2zM1073 205h2v1h-2zM1077 205h2v1h-2zM1081 205h2v1h-2zM1085 205h2v1h-2zM1089 205h2v1h-2zM1093 205h2v1h-2zM1097 205h2v1h-2zM1101 205h2v1h-2zM1105 205h2v1h-2zM1109 205h2v1h-2zM1113 205h2v1h-2zM1117 205h2v1h-2zM1121 205h2v1h-2zM1125 205h2v1h-2zM1129 205h2v1h-2zM1133 205h2v1h-2zM1137 205h2v1h-2zM1141 205h2v1h-2zM1145 205h2v1h-2zM1149 205h2v1h-2zM1153 205h2v1h-2zM1157 205h2v1h-2zM1161 205h2v1h-2zM109 252h2v1h-2zM113 252h2v1h-2zM117 252h2v1h-2zM121 252h2v1h-2zM125 252h2v1h-2zM129 252h2v1h-2zM133 252h2v1h-2zM137 252h2v1h-2zM141 252h2v1h-2zM145 252h2v1h-2zM149 252h2v1h-2zM153 252h2v1h-2zM157 252h2v1h-2zM161 252h2v1h-2zM165 252h2v1h-2zM169 252h2v1h-2zM173 252h2v1h-2zM177 252h2v1h-2zM181 252h2v1h-2zM185 252h2v1h-2zM189 252h2v1h-2zM193 252h2v1h-2zM197 252h2v1h-2zM201 252h2v1h-2zM205 252h2v1h-2zM209 252h2v1h-2zM213 252h2v1h-2zM217 252h2v1h-2zM221 252h2v1h-2zM225 252h2v1h-2zM229 252h2v1h-2zM233 252h2v1h-2zM237 252h2v1h-2zM241 252h2v1h-2zM245 252h2v1h-2zM249 252h2v1h-2zM253 252h2v1h-2zM257 252h2v1h-2zM261 252h2v1h-2zM265 252h2v1h-2zM269 252h2v1h-2zM273 252h2v1h-2zM277 252h2v1h-2zM281 252h2v1h-2zM285 252h2v1h-2zM289 252h2v1h-2zM293 252h2v1h-2zM297 252h2v1h-2zM301 252h2v1h-2zM305 252h2v1h-2zM309 252h2v1h-2zM313 252h2v1h-2zM317 252h2v1h-2zM321 252h2v1h-2zM325 252h2v1h-2zM329 252h2v1h-2zM333 252h2v1h-2zM337 252h2v1h-2zM341 252h2v1h-2zM345 252h2v1h-2zM349 252h2v1h-2zM353 252h2v1h-2zM357 252h2v1h-2zM361 252h2v1h-2zM365 252h2v1h-2zM369 252h2v1h-2zM373 252h2v1h-2zM377 252h2v1h-2zM381 252h2v1h-2zM385 252h2v1h-2zM389 252h2v1h-2zM393 252h2v1h-2zM397 252h2v1h-2zM401 252h2v1h-2zM405 252h2v1h-2zM409 252h2v1h-2zM413 252h2v1h-2zM417 252h2v1h-2zM421 252h2v1h-2zM425 252h2v1h-2zM429 252h2v1h-2zM433 252h2v1h-2zM437 252h2v1h-2zM441 252h2v1h-2zM445 252h2v1h-2zM449 252h2v1h-2zM453 252h2v1h-2zM457 252h2v1h-2zM461 252h2v1h-2zM465 252h2v1h-2zM469 252h2v1h-2zM473 252h2v1h-2zM477 252h2v1h-2zM481 252h2v1h-2zM485 252h2v1h-2zM489 252h2v1h-2zM493 252h2v1h-2zM497 252h2v1h-2zM501 252h2v1h-2zM505 252h2v1h-2zM509 252h2v1h-2zM513 252h2v1h-2zM517 252h2v1h-2zM521 252h2v1h-2zM525 252h2v1h-2zM529 252h2v1h-2zM533 252h2v1h-2zM537 252h2v1h-2zM541 252h2v1h-2zM545 252h2v1h-2zM549 252h2v1h-2zM553 252h2v1h-2zM557 252h2v1h-2zM561 252h2v1h-2zM565 252h2v1h-2zM569 252h2v1h-2zM573 252h2v1h-2zM577 252h2v1h-2zM581 252h2v1h-2zM585 252h2v1h-2zM589 252h2v1h-2zM593 252h2v1h-2zM597 252h2v1h-2zM601 252h2v1h-2zM605 252h2v1h-2zM609 252h2v1h-2zM613 252h2v1h-2zM617 252h2v1h-2zM621 252h2v1h-2zM625 252h2v1h-2zM629 252h2v1h-2zM633 252h2v1h-2zM637 252h2v1h-2zM641 252h2v1h-2zM645 252h2v1h-2zM649 252h2v1h-2zM653 252h2v1h-2zM657 252h2v1h-2zM661 252h2v1h-2zM665 252h2v1h-2zM669 252h2v1h-2zM673 252h2v1h-2zM677 252h2v1h-2zM681 252h2v1h-2zM685 252h2v1h-2zM689 252h2v1h-2zM693 252h2v1h-2zM697 252h2v1h-2zM701 252h2v1h-2zM705 252h2v1h-2zM709 252h2v1h-2zM713 252h2v1h-2zM717 252h2v1h-2zM721 252h2v1h-2zM725 252h2v1h-2zM729 252h2v1h-2zM733 252h2v1h-2zM737 252h2v1h-2zM741 252h2v1h-2zM745 252h2v1h-2zM749 252h2v1h-2zM753 252h2v1h-2zM757 252h2v1h-2zM761 252h2v1h-2zM765 252h2v1h-2zM769 252h2v1h-2zM773 252h2v1h-2zM777 252h2v1h-2zM781 252h2v1h-2zM785 252h2v1h-2zM789 252h2v1h-2zM793 252h2v1h-2zM797 252h2v1h-2zM801 252h2v1h-2zM805 252h2v1h-2zM809 252h2v1h-2zM813 252h2v1h-2zM817 252h2v1h-2zM821 252h2v1h-2zM825 252h2v1h-2zM829 252h2v1h-2zM833 252h2v1h-2zM837 252h2v1h-2zM841 252h2v1h-2zM845 252h2v1h-2zM849 252h2v1h-2zM853 252h2v1h-2zM857 252h2v1h-2zM861 252h2v1h-2zM865 252h2v1h-2zM869 252h2v1h-2zM873 252h2v1h-2zM877 252h2v1h-2zM881 252h2v1h-2zM885 252h2v1h-2zM889 252h2v1h-2zM893 252h2v1h-2zM897 252h2v1h-2zM901 252h2v1h-2zM905 252h2v1h-2zM909 252h2v1h-2zM913 252h2v1h-2zM917 252h2v1h-2zM921 252h2v1h-2zM925 252h2v1h-2zM929 252h2v1h-2zM933 252h2v1h-2zM937 252h2v1h-2zM941 252h2v1h-2zM945 252h2v1h-2zM949 252h2v1h-2zM953 252h2v1h-2zM957 252h2v1h-2zM961 252h2v1h-2zM965 252h2v1h-2zM969 252h2v1h-2zM973 252h2v1h-2zM977 252h2v1h-2zM981 252h2v1h-2zM985 252h2v1h-2zM989 252h2v1h-2zM993 252h2v1h-2zM997 252h2v1h-2zM1001 252h2v1h-2zM1005 252h2v1h-2zM1009 252h2v1h-2zM1013 252h2v1h-2zM1017 252h2v1h-2zM1021 252h2v1h-2zM1025 252h2v1h-2zM1029 252h2v1h-2zM1033 252h2v1h-2zM1037 252h2v1h-2zM1041 252h2v1h-2zM1045 252h2v1h-2zM1049 252h2v1h-2zM1053 252h2v1h-2zM1057 252h2v1h-2zM1061 252h2v1h-2zM1065 252h2v1h-2zM1069 252h2v1h-2zM1073 252h2v1h-2zM1077 252h2v1h-2zM1081 252h2v1h-2zM1085 252h2v1h-2zM1089 252h2v1h-2zM1093 252h2v1h-2zM1097 252h2v1h-2zM1101 252h2v1h-2zM1105 252h2v1h-2zM1109 252h2v1h-2zM1113 252h2v1h-2zM1117 252h2v1h-2zM1121 252h2v1h-2zM1125 252h2v1h-2zM1129 252h2v1h-2zM1133 252h2v1h-2zM1137 252h2v1h-2zM1141 252h2v1h-2zM1145 252h2v1h-2zM1149 252h2v1h-2zM1153 252h2v1h-2zM1157 252h2v1h-2zM1161 252h2v1h-2zM109 299h2v1h-2zM113 299h2v1h-2zM117 299h2v1h-2zM121 299h2v1h-2zM125 299h2v1h-2zM129 299h2v1h-2zM133 299h2v1h-2zM137 299h2v1h-2zM141 299h2v1h-2zM145 299h2v1h-2zM149 299h2v1h-2zM153 299h2v1h-2zM157 299h2v1h-2zM161 299h2v1h-2zM165 299h2v1h-2zM169 299h2v1h-2zM173 299h2v1h-2zM177 299h2v1h-2zM181 299h2v1h-2zM185 299h2v1h-2zM189 299h2v1h-2zM193 299h2v1h-2zM197 299h2v1h-2zM201 299h2v1h-2zM205 299h2v1h-2zM209 299h2v1h-2zM213 299h2v1h-2zM217 299h2v1h-2zM221 299h2v1h-2zM225 299h2v1h-2zM229 299h2v1h-2zM233 299h2v1h-2zM237 299h2v1h-2zM241 299h2v1h-2zM245 299h2v1h-2zM249 299h2v1h-2zM253 299h2v1h-2zM257 299h2v1h-2zM261 299h2v1h-2zM265 299h2v1h-2zM269 299h2v1h-2zM273 299h2v1h-2zM277 299h2v1h-2zM281 299h2v1h-2zM285 299h2v1h-2zM289 299h2v1h-2zM293 299h2v1h-2zM297 299h2v1h-2zM301 299h2v1h-2zM305 299h2v1h-2zM309 299h2v1h-2zM313 299h2v1h-2zM317 299h2v1h-2zM321 299h2v1h-2zM325 299h2v1h-2zM329 299h2v1h-2zM333 299h2v1h-2zM337 299h2v1h-2zM341 299h2v1h-2zM345 299h2v1h-2zM349 299h2v1h-2zM353 299h2v1h-2zM357 299h2v1h-2zM361 299h2v1h-2zM365 299h2v1h-2zM369 299h2v1h-2zM373 299h2v1h-2zM377 299h2v1h-2zM381 299h2v1h-2zM385 299h2v1h-2zM389 299h2v1h-2zM393 299h2v1h-2zM397 299h2v1h-2zM401 299h2v1h-2zM405 299h2v1h-2zM409 299h2v1h-2zM413 299h2v1h-2zM417 299h2v1h-2zM421 299h2v1h-2zM425 299h2v1h-2zM429 299h2v1h-2zM433 299h2v1h-2zM437 299h2v1h-2zM441 299h2v1h-2zM445 299h2v1h-2zM449 299h2v1h-2zM453 299h2v1h-2zM457 299h2v1h-2zM461 299h2v1h-2zM465 299h2v1h-2zM469 299h2v1h-2zM473 299h2v1h-2zM477 299h2v1h-2zM481 299h2v1h-2zM485 299h2v1h-2zM489 299h2v1h-2zM493 299h2v1h-2zM497 299h2v1h-2zM501 299h2v1h-2zM505 299h2v1h-2zM509 299h2v1h-2zM513 299h2v1h-2zM517 299h2v1h-2zM521 299h2v1h-2zM525 299h2v1h-2zM529 299h2v1h-2zM533 299h2v1h-2zM537 299h2v1h-2zM541 299h2v1h-2zM545 299h2v1h-2zM549 299h2v1h-2zM553 299h2v1h-2zM557 299h2v1h-2zM561 299h2v1h-2zM565 299h2v1h-2zM569 299h2v1h-2zM573 299h2v1h-2zM577 299h2v1h-2zM581 299h2v1h-2zM585 299h2v1h-2zM589 299h2v1h-2zM593 299h2v1h-2zM597 299h2v1h-2zM601 299h2v1h-2zM605 299h2v1h-2zM609 299h2v1h-2zM613 299h2v1h-2zM617 299h2v1h-2zM621 299h2v1h-2zM625 299h2v1h-2zM629 299h2v1h-2zM633 299h2v1h-2zM637 299h2v1h-2zM641 299h2v1h-2zM645 299h2v1h-2zM649 299h2v1h-2zM653 299h2v1h-2zM657 299h2v1h-2zM661 299h2v1h-2zM665 299h2v1h-2zM669 299h2v1h-2zM673 299h2v1h-2zM677 299h2v1h-2zM681 299h2v1h-2zM685 299h2v1h-2zM689 299h2v1h-2zM693 299h2v1h-2zM697 299h2v1h-2zM701 299h2v1h-2zM705 299h2v1h-2zM709 299h2v1h-2zM713 299h2v1h-2zM717 299h2v1h-2zM721 299h2v1h-2zM725 299h2v1h-2zM729 299h2v1h-2zM733 299h2v1h-2zM737 299h2v1h-2zM741 299h2v1h-2zM745 299h2v1h-2zM749 299h2v1h-2zM753 299h2v1h-2zM757 299h2v1h-2zM761 299h2v1h-2zM765 299h2v1h-2zM769 299h2v1h-2zM773 299h2v1h-2zM777 299h2v1h-2zM781 299h2v1h-2zM785 299h2v1h-2zM789 299h2v1h-2zM793 299h2v1h-2zM797 299h2v1h-2zM801 299h2v1h-2zM805 299h2v1h-2zM809 299h2v1h-2zM813 299h2v1h-2zM817 299h2v1h-2zM821 299h2v1h-2zM825 299h2v1h-2zM829 299h2v1h-2zM833 299h2v1h-2zM837 299h2v1h-2zM841 299h2v1h-2zM845 299h2v1h-2zM849 299h2v1h-2zM853 299h2v1h-2zM857 299h2v1h-2zM861 299h2v1h-2zM865 299h2v1h-2zM869 299h2v1h-2zM873 299h2v1h-2zM877 299h2v1h-2zM881 299h2v1h-2zM885 299h2v1h-2zM889 299h2v1h-2zM893 299h2v1h-2zM897 299h2v1h-2zM901 299h2v1h-2zM905 299h2v1h-2zM909 299h2v1h-2zM913 299h2v1h-2zM917 299h2v1h-2zM921 299h2v1h-2zM925 299h2v1h-2zM929 299h2v1h-2zM933 299h2v1h-2zM937 299h2v1h-2zM941 299h2v1h-2zM945 299h2v1h-2zM949 299h2v1h-2zM953 299h2v1h-2zM957 299h2v1h-2zM961 299h2v1h-2zM965 299h2v1h-2zM969 299h2v1h-2zM973 299h2v1h-2zM977 299h2v1h-2zM981 299h2v1h-2zM985 299h2v1h-2zM989 299h2v1h-2zM993 299h2v1h-2zM997 299h2v1h-2zM1001 299h2v1h-2zM1005 299h2v1h-2zM1009 299h2v1h-2zM1013 299h2v1h-2zM1017 299h2v1h-2zM1021 299h2v1h-2zM1025 299h2v1h-2zM1029 299h2v1h-2zM1033 299h2v1h-2zM1037 299h2v1h-2zM1041 299h2v1h-2zM1045 299h2v1h-2zM1049 299h2v1h-2zM1053 299h2v1h-2zM1057 299h2v1h-2zM1061 299h2v1h-2zM1065 299h2v1h-2zM1069 299h2v1h-2zM1073 299h2v1h-2zM1077 299h2v1h-2zM1081 299h2v1h-2zM1085 299h2v1h-2zM1089 299h2v1h-2zM1093 299h2v1h-2zM1097 299h2v1h-2zM1101 299h2v1h-2zM1105 299h2v1h-2zM1109 299h2v1h-2zM1113 299h2v1h-2zM1117 299h2v1h-2zM1121 299h2v1h-2zM1125 299h2v1h-2zM1129 299h2v1h-2zM1133 299h2v1h-2zM1137 299h2v1h-2zM1141 299h2v1h-2zM1145 299h2v1h-2zM1149 299h2v1h-2zM1153 299h2v1h-2zM1157 299h2v1h-2zM1161 299h2v1h-2zM109 346h2v1h-2zM113 346h2v1h-2zM117 346h2v1h-2zM121 346h2v1h-2zM125 346h2v1h-2zM129 346h2v1h-2zM133 346h2v1h-2zM137 346h2v1h-2zM141 346h2v1h-2zM145 346h2v1h-2zM149 346h2v1h-2zM153 346h2v1h-2zM157 346h2v1h-2zM161 346h2v1h-2zM165 346h2v1h-2zM169 346h2v1h-2zM173 346h2v1h-2zM177 346h2v1h-2zM181 346h2v1h-2zM185 346h2v1h-2zM189 346h2v1h-2zM193 346h2v1h-2zM197 346h2v1h-2zM201 346h2v1h-2zM205 346h2v1h-2zM209 346h2v1h-2zM213 346h2v1h-2zM217 346h2v1h-2zM221 346h2v1h-2zM225 346h2v1h-2zM229 346h2v1h-2zM233 346h2v1h-2zM237 346h2v1h-2zM241 346h2v1h-2zM245 346h2v1h-2zM249 346h2v1h-2zM253 346h2v1h-2zM257 346h2v1h-2zM261 346h2v1h-2zM265 346h2v1h-2zM269 346h2v1h-2zM273 346h2v1h-2zM277 346h2v1h-2zM281 346h2v1h-2zM285 346h2v1h-2zM289 346h2v1h-2zM293 346h2v1h-2zM297 346h2v1h-2zM301 346h2v1h-2zM305 346h2v1h-2zM309 346h2v1h-2zM313 346h2v1h-2zM317 346h2v1h-2zM321 346h2v1h-2zM325 346h2v1h-2zM329 346h2v1h-2zM333 346h2v1h-2zM337 346h2v1h-2zM341 346h2v1h-2zM345 346h2v1h-2zM349 346h2v1h-2zM353 346h2v1h-2zM357 346h2v1h-2zM361 346h2v1h-2zM365 346h2v1h-2zM369 346h2v1h-2zM373 346h2v1h-2zM377 346h2v1h-2zM381 346h2v1h-2zM385 346h2v1h-2zM389 346h2v1h-2zM393 346h2v1h-2zM397 346h2v1h-2zM401 346h2v1h-2zM405 346h2v1h-2zM409 346h2v1h-2zM413 346h2v1h-2zM417 346h2v1h-2zM421 346h2v1h-2zM425 346h2v1h-2zM429 346h2v1h-2zM433 346h2v1h-2zM437 346h2v1h-2zM441 346h2v1h-2zM445 346h2v1h-2zM449 346h2v1h-2zM453 346h2v1h-2zM457 346h2v1h-2zM461 346h2v1h-2zM465 346h2v1h-2zM469 346h2v1h-2zM473 346h2v1h-2zM477 346h2v1h-2zM481 346h2v1h-2zM485 346h2v1h-2zM489 346h2v1h-2zM493 346h2v1h-2zM497 346h2v1h-2zM501 346h2v1h-2zM505 346h2v1h-2zM509 346h2v1h-2zM513 346h2v1h-2zM517 346h2v1h-2zM521 346h2v1h-2zM525 346h2v1h-2zM529 346h2v1h-2zM533 346h2v1h-2zM537 346h2v1h-2zM541 346h2v1h-2zM545 346h2v1h-2zM549 346h2v1h-2zM553 346h2v1h-2zM557 346h2v1h-2zM561 346h2v1h-2zM565 346h2v1h-2zM569 346h2v1h-2zM573 346h2v1h-2zM577 346h2v1h-2zM581 346h2v1h-2zM585 346h2v1h-2zM589 346h2v1h-2zM593 346h2v1h-2zM597 346h2v1h-2zM601 346h2v1h-2zM605 346h2v1h-2zM609 346h2v1h-2zM613 346h2v1h-2zM617 346h2v1h-2zM621 346h2v1h-2zM625 346h2v1h-2zM629 346h2v1h-2zM633 346h2v1h-2zM637 346h2v1h-2zM641 346h2v1h-2zM645 346h2v1h-2zM649 346h2v1h-2zM653 346h2v1h-2zM657 346h2v1h-2zM661 346h2v1h-2zM665 346h2v1h-2zM669 346h2v1h-2zM673 346h2v1h-2zM677 346h2v1h-2zM681 346h2v1h-2zM685 346h2v1h-2zM689 346h2v1h-2zM693 346h2v1h-2zM697 346h2v1h-2zM701 346h2v1h-2zM705 346h2v1h-2zM709 346h2v1h-2zM713 346h2v1h-2zM717 346h2v1h-2zM721 346h2v1h-2zM725 346h2v1h-2zM729 346h2v1h-2zM733 346h2v1h-2zM737 346h2v1h-2zM741 346h2v1h-2zM745 346h2v1h-2zM749 346h2v1h-2zM753 346h2v1h-2zM757 346h2v1h-2zM761 346h2v1h-2zM765 346h2v1h-2zM769 346h2v1h-2zM773 346h2v1h-2zM777 346h2v1h-2zM781 346h2v1h-2zM785 346h2v1h-2zM789 346h2v1h-2zM793 346h2v1h-2zM797 346h2v1h-2zM801 346h2v1h-2zM805 346h2v1h-2zM809 346h2v1h-2zM813 346h2v1h-2zM817 346h2v1h-2zM821 346h2v1h-2zM825 346h2v1h-2zM829 346h2v1h-2zM833 346h2v1h-2zM837 346h2v1h-2zM841 346h2v1h-2zM845 346h2v1h-2zM849 346h2v1h-2zM853 346h2v1h-2zM857 346h2v1h-2zM861 346h2v1h-2zM865 346h2v1h-2zM869 346h2v1h-2zM873 346h2v1h-2zM877 346h2v1h-2zM881 346h2v1h-2zM885 346h2v1h-2zM889 346h2v1h-2zM893 346h2v1h-2zM897 346h2v1h-2zM901 346h2v1h-2zM905 346h2v1h-2zM909 346h2v1h-2zM913 346h2v1h-2zM917 346h2v1h-2zM921 346h2v1h-2zM925 346h2v1h-2zM929 346h2v1h-2zM933 346h2v1h-2zM937 346h2v1h-2zM941 346h2v1h-2zM945 346h2v1h-2zM949 346h2v1h-2zM953 346h2v1h-2zM957 346h2v1h-2zM961 346h2v1h-2zM965 346h2v1h-2zM969 346h2v1h-2zM973 346h2v1h-2zM977 346h2v1h-2zM981 346h2v1h-2zM985 346h2v1h-2zM989 346h2v1h-2zM993 346h2v1h-2zM997 346h2v1h-2zM1001 346h2v1h-2zM1005 346h2v1h-2zM1009 346h2v1h-2zM1013 346h2v1h-2zM1017 346h2v1h-2zM1021 346h2v1h-2zM1025 346h2v1h-2zM1029 346h2v1h-2zM1033 346h2v1h-2zM1037 346h2v1h-2zM1041 346h2v1h-2zM1045 346h2v1h-2zM1049 346h2v1h-2zM1053 346h2v1h-2zM1057 346h2v1h-2zM1061 346h2v1h-2zM1065 346h2v1h-2zM1069 346h2v1h-2zM1073 346h2v1h-2zM1077 346h2v1h-2zM1081 346h2v1h-2zM1085 346h2v1h-2zM1089 346h2v1h-2zM1093 346h2v1h-2zM1097 346h2v1h-2zM1101 346h2v1h-2zM1105 346h2v1h-2zM1109 346h2v1h-2zM1113 346h2v1h-2zM1117 346h2v1h-2zM1121 346h2v1h-2zM1125 346h2v1h-2zM1129 346h2v1h-2zM1133 346h2v1h-2zM1137 346h2v1h-2zM1141 346h2v1h-2zM1145 346h2v1h-2zM1149 346h2v1h-2zM1153 346h2v1h-2zM1157 346h2v1h-2zM1161 346h2v1h-2z" fill="#969696" shape-rendering="crispEdges"/>
<path d="M104 181h486v2h-486zM104 183h487v1h-487zM587 184h4v1h-4zM588 185h4v2h-4zM589 187h3v1h-3zM589 188h4v2h-4zM590 190h4v2h-4zM591 192h3v1h-3zM591 193h4v2h-4zM592 195h3v1h-3zM592 196h4v2h-4zM593 198h4v2h-4zM594 200h3v1h-3zM594 201h4v2h-4zM595 203h4v1h-4zM595 204h441v1h-441zM596 205h440v1h-440zM596 206h441v1h-441zM1033 207h4v1h-4zM1034 208h4v3h-4zM1035 211h4v2h-4zM1036 213h3v1h-3zM1036 214h4v2h-4zM1037 216h4v3h-4zM1038 219h4v2h-4zM1039 221h3v1h-3zM1039 222h4v2h-4zM1040 224h4v3h-4zM1041 227h4v1h-4zM1041 228h60v1h-60zM1042 229h59v1h-59zM1042 230h60v1h-60zM1098 231h4v1h-4zM1099 232h4v2h-4zM1100 234h3v1h-3zM1100 235h4v2h-4zM1101 237h4v2h-4zM1102 239h3v1h-3zM1102 240h4v2h-4zM1103 242h3v1h-3zM1103 243h4v2h-4zM1104 245h4v2h-4zM1105 247h3v1h-3zM1105 248h4v2h-4zM1106 250h4v1h-4zM1106 251h60v1h-60zM1107 252h59v2h-59z" fill="#000" shape-rendering="crispEdges"/>
<path d="M131 364h1v5h-1zM131 66h1v5h-1zM242 364h1v5h-1zM242 66h1v5h-1zM353 364h1v5h-1zM353 66h1v5h-1zM465 364h1v5h-1zM465 66h1v5h-1zM576 364h1v5h-1zM576 66h1v5h-1zM688 364h1v5h-1zM688 66h1v5h-1zM799 364h1v5h-1zM799 66h1v5h-1zM911 364h1v5h-1zM911 66h1v5h-1zM1022 364h1v5h-1zM1022 66h1v5h-1zM1134 364h1v5h-1zM1134 66h1v5h-1zM158 367h1v2h-1zM158 66h1v2h-1zM186 367h1v2h-1zM186 66h1v2h-1zM214 367h1v2h-1zM214 66h1v2h-1zM270 367h1v2h-1zM270 66h1v2h-1zM298 367h1v2h-1zM298 66h1v2h-1zM326 367h1v2h-1zM326 66h1v2h-1zM381 367h1v2h-1zM381 66h1v2h-1zM409 367h1v2h-1zM409 66h1v2h-1zM437 367h1v2h-1zM437 66h1v2h-1zM493 367h1v2h-1zM493 66h1v2h-1zM521 367h1v2h-1zM521 66h1v2h-1zM549 367h1v2h-1zM549 66h1v2h-1zM604 367h1v2h-1zM604 66h1v2h-1zM632 367h1v2h-1zM632 66h1v2h-1zM660 367h1v2h-1zM660 66h1v2h-1zM716 367h1v2h-1zM716 66h1v2h-1zM744 367h1v2h-1zM744 66h1v2h-1zM772 367h1v2h-1zM772 66h1v2h-1zM827 367h1v2h-1zM827 66h1v2h-1zM855 367h1v2h-1zM855 66h1v2h-1zM883 367h1v2h-1zM883 66h1v2h-1zM939 367h1v2h-1zM939 66h1v2h-1zM967 367h1v2h-1zM967 66h1v2h-1zM994 367h1v2h-1zM994 66h1v2h-1zM1050 367h1v2h-1zM1050 66h1v2h-1zM1078 367h1v2h-1zM1078 66h1v2h-1zM1106 367h1v2h-1zM1106 66h1v2h-1zM1162 367h1v2h-1zM1162 66h1v2h-1zM106 65h5v1h-5zM1159 65h5v1h-5zM106 112h5v1h-5zM1159 112h5v1h-5zM106 159h5v1h-5zM1159 159h5v1h-5zM106 205h5v1h-5zM1159 205h5v1h-5zM106 252h5v1h-5zM1159 252h5v1h-5zM106 299h5v1h-5zM1159 299h5v1h-5zM106 346h5v1h-5zM1159 346h5v1h-5z" fill="#000" shape-rendering="crispEdges"/>
<path d="M105 65h1060v1h-1060zM105 369h1060v1h-1060zM105 65h1v305h-1zM1164 65h1v305h-1z" fill="#1a1a1a" shape-rendering="crispEdges"/>
<g font-family="DejaVu Sans, Liberation Sans, sans-serif" fill="#000">
<text x="98.3" y="69" font-size="16" text-anchor="end">54</text>
<text x="98.3" y="116" font-size="16" text-anchor="end">52</text>
<text x="98.3" y="163" font-size="16" text-anchor="end">50</text>
<text x="98.3" y="209" font-size="16" text-anchor="end">48</text>
<text x="98.3" y="256" font-size="16" text-anchor="end">46</text>
<text x="98.3" y="303" font-size="16" text-anchor="end">44</text>
<text x="98.3" y="350" font-size="16" text-anchor="end">42</text>
<text transform="translate(134.2,376) rotate(-90)" font-size="16" text-anchor="end">2024.11.29</text>
<text transform="translate(245.2,376) rotate(-90)" font-size="16" text-anchor="end">2024.12.01</text>
<text transform="translate(356.2,376) rotate(-90)" font-size="16" text-anchor="end">2024.12.03</text>
<text transform="translate(468.2,376) rotate(-90)" font-size="16" text-anchor="end">2024.12.05</text>
<text transform="translate(579.2,376) rotate(-90)" font-size="16" text-anchor="end">2024.12.07</text>
<text transform="translate(691.2,376) rotate(-90)" font-size="16" text-anchor="end">2024.12.09</text>
<text transform="translate(802.2,376) rotate(-90)" font-size="16" text-anchor="end">2024.12.11</text>
<text transform="translate(914.2,376) rotate(-90)" font-size="16" text-anchor="end">2024.12.13</text>
<text transform="translate(1025.2,376) rotate(-90)" font-size="16" text-anchor="end">2024.12.15</text>
<text transform="translate(1137.2,376) rotate(-90)" font-size="16" text-anchor="end">2024.12.17</text>
<text x="635" y="38.3" font-size="24" text-anchor="middle" fill="#141414">Number of Instances</text>
</g>
</svg>
</body></html>
